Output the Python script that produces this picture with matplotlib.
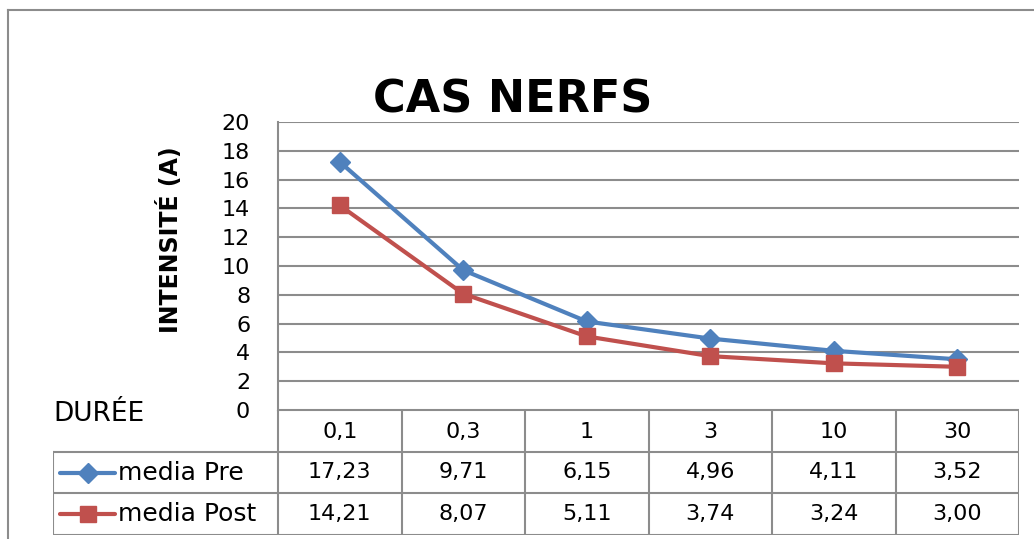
import matplotlib.pyplot as plt
from matplotlib.lines import Line2D

# données
categories = ['0,1', '0,3', '1', '3', '10', '30']
media_pre = [17.23, 9.71, 6.15, 4.96, 4.11, 3.52]
media_post = [14.21, 8.07, 5.11, 3.74, 3.24, 3.00]
labels_pre = ['17,23', '9,71', '6,15', '4,96', '4,11', '3,52']
labels_post = ['14,21', '8,07', '5,11', '3,74', '3,24', '3,00']
series_names = ['media Pre', 'media Post']
yticks = [0, 2, 4, 6, 8, 10, 12, 14, 16, 18, 20]

blue = '#4F81BD'
red = '#C0504D'
grid = '#8C8C8C'

W, H = 1034, 539
fig = plt.figure(figsize=(W / 100, H / 100), dpi=100)
plt.rcParams['font.family'] = ['DejaVu Sans']

# cadre extérieur
fig.add_artist(Line2D([8 / W, 8 / W], [0, 1 - 10 / H], color=grid, lw=1.5))
fig.add_artist(Line2D([8 / W, 1], [1 - 10 / H, 1 - 10 / H], color=grid, lw=1.5))

# zone du graphique
x0, x1 = 278, 1019
y_top, y_bot = 122, 410
ax = fig.add_axes([x0 / W, 1 - y_bot / H, (x1 - x0) / W, (y_bot - y_top) / H])
xs = range(len(categories))
ax.plot(xs, media_pre, color=blue, lw=3, marker='D', ms=10, zorder=3)
ax.plot(xs, media_post, color=red, lw=3, marker='s', ms=12, zorder=3)
ax.set_xlim(-0.5, len(categories) - 0.5)
ax.set_ylim(0, 20)
ax.set_yticks(yticks)
ax.set_yticklabels([str(t) for t in yticks], fontsize=16)
ax.tick_params(axis='y', length=0, pad=20)
ax.set_xticks([])
for t in yticks:
    ax.axhline(t, color=grid, lw=1.5, zorder=1)
for s in ['top', 'right', 'bottom']:
    ax.spines[s].set_visible(False)
ax.spines['left'].set_color(grid)
ax.spines['left'].set_linewidth(1.5)

fig.text(170 / W, 1 - 240 / H, 'INTENSITÉ (A)', fontsize=17, fontweight='bold',
         rotation=90, ha='center', va='center')
fig.text(513 / W, 1 - 100 / H, 'CAS NERFS', fontsize=32, fontweight='bold',
         ha='center', va='center')
fig.text(53 / W, 1 - 414 / H, 'DURÉE', fontsize=19, ha='left', va='center')

# tableau de données
t_left, t_bot = 53, 535
colw = (x1 - x0) / len(categories)
lab_w = (x0 - t_left) / colw
tab = fig.add_axes([t_left / W, 1 - t_bot / H, (x1 - t_left) / W, (t_bot - y_bot) / H])
tab.set_xlim(-0.5 - lab_w, len(categories) - 0.5)
tab.set_ylim(3, 0)
tab.axis('off')
n = len(categories)
# lignes horizontales
tab.plot([-0.5, n - 0.5], [0, 0], color=grid, lw=1.5)
for r in [1, 2, 3]:
    tab.plot([-0.5 - lab_w, n - 0.5], [r, r], color=grid, lw=1.5)
# lignes verticales
for c in range(n + 1):
    tab.plot([c - 0.5, c - 0.5], [0, 3], color=grid, lw=1.5)
tab.plot([-0.5 - lab_w, -0.5 - lab_w], [1, 3], color=grid, lw=1.5)

for i, cat in enumerate(categories):
    tab.text(i, 0.52, cat, fontsize=16, ha='center', va='center')
    tab.text(i, 1.5, labels_pre[i], fontsize=16, ha='center', va='center')
    tab.text(i, 2.5, labels_post[i], fontsize=16, ha='center', va='center')

lx0 = -0.5 - lab_w + 0.06
lx1 = lx0 + 0.44
for r, (name, col, mk, ms) in enumerate(zip(series_names, [blue, red], ['D', 's'], [10, 12])):
    tab.plot([lx0, lx1], [r + 1.5, r + 1.5], color=col, lw=3, marker=None,
             solid_capstyle='round')
    tab.plot([(lx0 + lx1) / 2], [r + 1.5], color=col, marker=mk, ms=ms)
    tab.text(lx1 + 0.03, r + 1.5, name, fontsize=18, ha='left', va='center')

fig.savefig('out.png', dpi=100)
